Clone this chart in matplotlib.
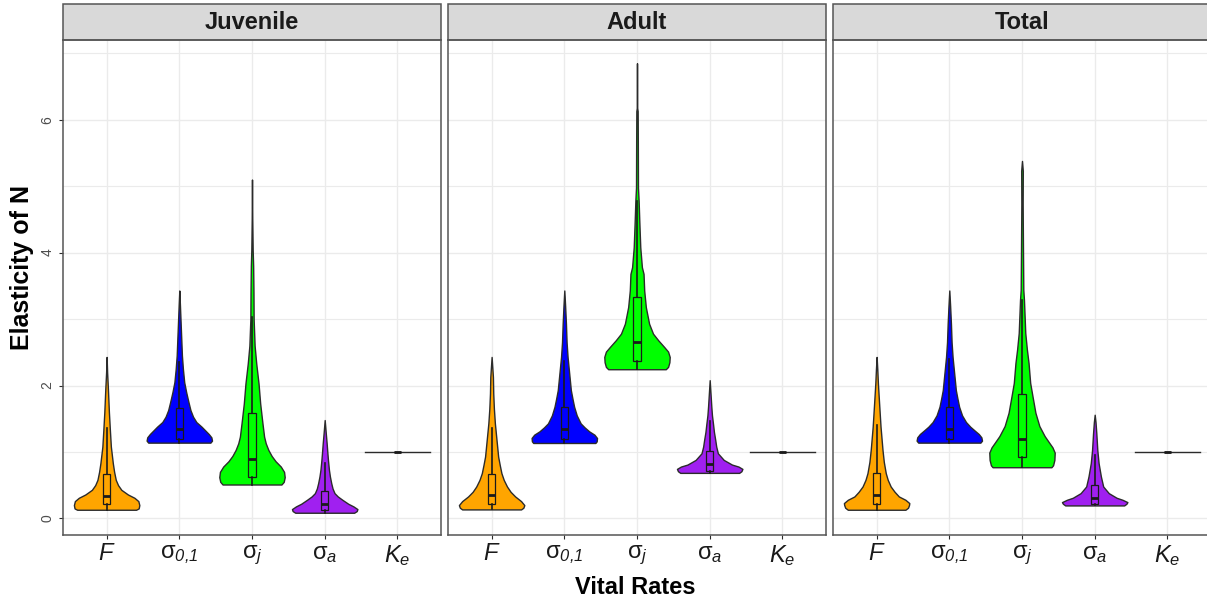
import matplotlib.pyplot as plt
import numpy as np
from matplotlib.patches import Rectangle

plt.rcParams['font.family'] = ['Liberation Sans', 'DejaVu Sans']
plt.rcParams['mathtext.fontset'] = 'custom'
plt.rcParams['mathtext.rm'] = 'Liberation Sans:italic'
plt.rcParams['mathtext.it'] = 'Liberation Sans:italic'
plt.rcParams['mathtext.sf'] = 'Liberation Sans'

panels = ['Juvenile', 'Adult', 'Total']
rates = [r'$F$', r'$\mathsf{\sigma}_{0{,}1}$', r'$\mathsf{\sigma}_{j}$',
         r'$\mathsf{\sigma}_{a}$', r'$K_{e}$']
colors = ['#FFA500', '#0000FF', '#00FF00', '#A020F0', '#000000']

# violin outlines: elasticity levels and relative half-widths
juv_y = [
    [0.13, 0.15, 0.20, 0.26, 0.31, 0.36, 0.43, 0.50, 0.58, 0.70, 0.83, 1.08, 1.33, 1.60, 1.95, 2.20, 2.43],
    [1.14, 1.17, 1.22, 1.27, 1.32, 1.38, 1.45, 1.53, 1.63, 1.75, 1.90, 2.05, 2.25, 2.45, 2.70, 2.95, 3.20, 3.43],
    [0.51, 0.55, 0.62, 0.70, 0.78, 0.86, 0.94, 1.03, 1.13, 1.23, 1.43, 1.73, 2.03, 2.33, 2.60, 3.00, 3.40, 3.80, 4.05, 4.50, 5.10],
    [0.085, 0.11, 0.14, 0.18, 0.22, 0.28, 0.33, 0.38, 0.45, 0.53, 0.63, 0.73, 0.88, 1.00, 1.13, 1.30, 1.48],
    [1.0],
]
juv_w = [
    [0.90, 0.98, 1.00, 0.97, 0.85, 0.65, 0.45, 0.35, 0.28, 0.23, 0.19, 0.13, 0.10, 0.07, 0.04, 0.015, 0.0],
    [0.95, 1.00, 0.98, 0.90, 0.80, 0.68, 0.52, 0.42, 0.34, 0.28, 0.21, 0.15, 0.11, 0.08, 0.06, 0.04, 0.02, 0.0],
    [0.90, 0.97, 1.00, 0.98, 0.88, 0.72, 0.60, 0.50, 0.42, 0.37, 0.32, 0.25, 0.20, 0.13, 0.08, 0.05, 0.045, 0.035, 0.02, 0.008, 0.0],
    [0.90, 0.98, 1.00, 0.88, 0.72, 0.54, 0.40, 0.30, 0.24, 0.20, 0.16, 0.13, 0.10, 0.08, 0.06, 0.03, 0.0],
    [1.0],
]
adu_y = [
    [0.135, 0.16, 0.20, 0.26, 0.33, 0.40, 0.48, 0.58, 0.68, 0.80, 0.93, 1.18, 1.43, 1.65, 1.88, 2.13, 2.43],
    [1.135, 1.16, 1.21, 1.26, 1.31, 1.37, 1.43, 1.55, 1.68, 1.80, 1.93, 2.18, 2.43, 2.65, 2.93, 3.20, 3.43],
    [2.245, 2.28, 2.35, 2.43, 2.51, 2.58, 2.68, 2.78, 2.93, 3.18, 3.43, 3.68, 3.78, 4.08, 4.48, 4.78, 4.98, 5.68, 6.13, 6.18, 6.85],
    [0.685, 0.71, 0.745, 0.78, 0.81, 0.88, 0.98, 1.08, 1.18, 1.30, 1.43, 1.55, 1.68, 1.88, 2.08],
    [1.0],
]
adu_w = [
    [0.90, 0.97, 1.00, 0.90, 0.72, 0.58, 0.47, 0.37, 0.30, 0.25, 0.20, 0.15, 0.10, 0.07, 0.05, 0.04, 0.0],
    [0.95, 0.99, 1.00, 0.92, 0.76, 0.62, 0.50, 0.38, 0.30, 0.25, 0.20, 0.15, 0.10, 0.07, 0.05, 0.025, 0.0],
    [0.88, 0.95, 0.99, 1.00, 0.95, 0.83, 0.65, 0.49, 0.37, 0.27, 0.22, 0.20, 0.15, 0.10, 0.07, 0.05, 0.03, 0.025, 0.02, 0.005, 0.0],
    [0.90, 0.97, 1.00, 0.88, 0.68, 0.43, 0.25, 0.20, 0.17, 0.13, 0.10, 0.07, 0.05, 0.025, 0.0],
    [1.0],
]
tot_y = [
    [0.13, 0.16, 0.20, 0.23, 0.28, 0.33, 0.40, 0.48, 0.58, 0.68, 0.85, 1.03, 1.38, 1.70, 2.03, 2.25, 2.43],
    [1.14, 1.17, 1.22, 1.27, 1.32, 1.38, 1.45, 1.55, 1.68, 1.80, 1.93, 2.18, 2.43, 2.65, 2.93, 3.20, 3.43],
    [0.77, 0.80, 0.88, 0.99, 1.07, 1.14, 1.24, 1.39, 1.59, 1.84, 2.04, 2.34, 2.54, 2.79, 3.29, 3.44, 4.04, 4.74, 5.23, 5.38],
    [0.195, 0.22, 0.245, 0.28, 0.31, 0.38, 0.48, 0.63, 0.83, 1.03, 1.28, 1.45, 1.56],
    [1.0],
]
tot_w = [
    [0.88, 0.96, 0.99, 1.00, 0.88, 0.68, 0.55, 0.43, 0.34, 0.28, 0.22, 0.18, 0.12, 0.08, 0.04, 0.02, 0.0],
    [0.95, 1.00, 0.98, 0.90, 0.78, 0.64, 0.51, 0.39, 0.30, 0.25, 0.20, 0.15, 0.10, 0.07, 0.05, 0.025, 0.0],
    [0.90, 0.95, 0.99, 1.00, 0.93, 0.83, 0.69, 0.53, 0.41, 0.32, 0.25, 0.20, 0.15, 0.10, 0.06, 0.04, 0.03, 0.02, 0.025, 0.0],
    [0.90, 0.97, 1.00, 0.85, 0.67, 0.43, 0.26, 0.19, 0.12, 0.08, 0.05, 0.025, 0.0],
    [1.0],
]
# boxplot stats: lower whisker, q1, median, q3, upper whisker
juv_box = [[0.13, 0.21, 0.34, 0.67, 1.36], [1.14, 1.20, 1.35, 1.66, 2.35], [0.51, 0.63, 0.90, 1.59, 3.03],
           [0.085, 0.125, 0.22, 0.41, 0.84], [1.0, 1.0, 1.0, 1.0, 1.0]]
adu_box = [[0.135, 0.21, 0.35, 0.67, 1.36], [1.135, 1.20, 1.35, 1.67, 2.37], [2.245, 2.37, 2.66, 3.33, 4.77],
           [0.685, 0.72, 0.82, 1.02, 1.47], [1.0, 1.0, 1.0, 1.0, 1.0]]
tot_box = [[0.13, 0.21, 0.35, 0.69, 1.41], [1.14, 1.20, 1.35, 1.68, 2.40], [0.77, 0.93, 1.19, 1.87, 3.28],
           [0.195, 0.22, 0.31, 0.51, 0.95], [1.0, 1.0, 1.0, 1.0, 1.0]]

all_y = [juv_y, adu_y, tot_y]
all_w = [juv_w, adu_w, tot_w]
all_box = [juv_box, adu_box, tot_box]

W, H = 1207, 600
lefts = [63, 448, 833]
pw, top, bot = 378, 40, 535
half = 0.45
edge = '#2B2B2B'

fig = plt.figure(figsize=(W / 100, H / 100), dpi=100)

for k, name in enumerate(panels):
    ax = fig.add_axes([lefts[k] / W, 1 - bot / H, pw / W, (bot - top) / H])
    ax.set_xlim(0.4, 5.6)
    ax.set_ylim(-0.25, 7.2)
    ax.set_axisbelow(True)

    ax.set_yticks([0, 2, 4, 6])
    ax.set_yticks([1, 3, 5, 7], minor=True)
    ax.set_xticks(range(1, 6))
    ax.grid(True, which='major', color='#EBEBEB', lw=1.0)
    ax.grid(True, which='minor', axis='y', color='#EBEBEB', lw=0.8)
    ax.tick_params(which='minor', length=0)
    ax.set_xticklabels(rates, fontsize=17, color='#1A1A1A')
    ax.tick_params(axis='x', length=3, width=0.8, color=edge, pad=3)
    if k == 0:
        ax.set_yticklabels(['0', '2', '4', '6'], rotation=90, va='center', fontsize=10, color='#4D4D4D')
        ax.tick_params(axis='y', length=3, width=0.8, color=edge, pad=3)
    else:
        ax.tick_params(axis='y', length=0, labelleft=False)
    for s in ax.spines.values():
        s.set_color('#555555')
        s.set_linewidth(1.1)

    for i in range(5):
        x = i + 1
        ys = np.array(all_y[k][i])
        ws = np.array(all_w[k][i]) * half
        if len(ys) == 1:
            ax.plot([x - half, x + half], [ys[0], ys[0]], color=edge, lw=1.0, zorder=2)
        else:
            ax.fill_betweenx(ys, x - ws, x + ws, facecolor=colors[i], edgecolor=edge, lw=1.0, zorder=2)
        lo, q1, med, q3, hi = all_box[k][i]
        ax.plot([x, x], [lo, q1], color='#1A1A1A', lw=1.2, zorder=3)
        ax.plot([x, x], [q3, hi], color='#1A1A1A', lw=1.2, zorder=3)
        ax.add_patch(Rectangle((x - 0.05, q1), 0.1, q3 - q1, fill=False, ec='#1A1A1A', lw=0.9, zorder=3))
        ax.plot([x - 0.05, x + 0.05], [med, med], color='#1A1A1A', lw=2.0, zorder=4, solid_capstyle='butt')

    sh = 36 / (bot - top)
    ax.add_patch(Rectangle((0, 1), 1, sh, transform=ax.transAxes, clip_on=False,
                           facecolor='#D9D9D9', edgecolor='#555555', lw=1.1))
    ax.text(0.5, 1 + sh / 2, name, transform=ax.transAxes, ha='center', va='center',
            fontsize=17, fontweight='bold', color='#1A1A1A')

fig.text(22 / W, 1 - 268 / H, 'Elasticity of N', rotation=90, ha='center', va='center',
         fontsize=18, fontweight='bold')
fig.text(635 / W, 1 - 587 / H, 'Vital Rates', ha='center', va='center',
         fontsize=17, fontweight='bold')

fig.savefig('out.png', dpi=100)
